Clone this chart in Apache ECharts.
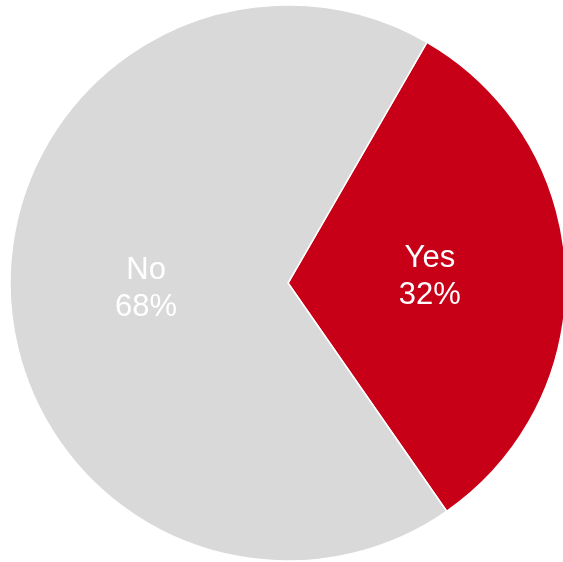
<!DOCTYPE html>
<html>
<head>
<meta charset="utf-8">
<script src="https://cdn.jsdelivr.net/npm/echarts@6/dist/echarts.min.js"></script>
<style>
  html, body { margin: 0; padding: 0; background: #ffffff; }
  #chart { width: 563px; height: 562px; }
</style>
</head>
<body>
<div id="chart"></div>
<script>
// Answer shares (percent)
const categories = ['Yes', 'No'];
const values = [32, 68];
const colors = ['#C70018', '#D9D9D9'];

const chart = echarts.init(document.getElementById('chart'), null, { renderer: 'canvas' });

chart.setOption({
  animation: false,
  series: [{
    type: 'pie',
    center: [288, 283],
    radius: 278,
    startAngle: 60,
    clockwise: true,
    avoidLabelOverlap: false,
    itemStyle: { borderColor: '#ffffff', borderWidth: 1.5 },
    label: {
      show: true,
      position: 'inside',
      formatter: function (p) { return p.name + '\n' + Math.round(p.value) + '%'; },
      color: '#ffffff',
      fontFamily: 'Liberation Sans, Arial, sans-serif',
      fontSize: 31,
      lineHeight: 37
    },
    labelLine: { show: false },
    emphasis: { disabled: true },
    data: categories.map((c, i) => ({
      name: c,
      value: values[i],
      itemStyle: { color: colors[i] }
    }))
  }]
});
</script>
</body>
</html>
